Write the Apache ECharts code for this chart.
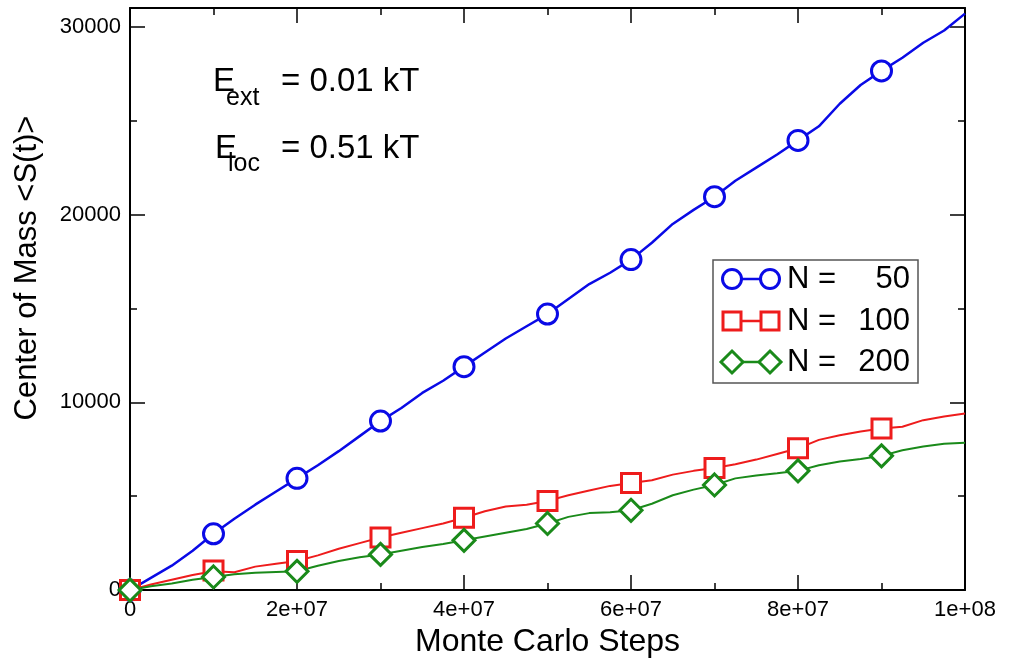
<!DOCTYPE html>
<html>
<head>
<meta charset="utf-8">
<script src="https://cdn.jsdelivr.net/npm/echarts@6/dist/echarts.min.js"></script>
<style>html,body{margin:0;padding:0;background:#fff}#c{width:1011px;height:663px}</style>
</head>
<body>
<div id="c"></div>
<script>
// Monte Carlo steps (in millions) for the curves
const stepsM = [0,2.5,5,7.5,10,12.5,15,17.5,20,22.5,25,27.5,30,32.5,35,37.5,40,42.5,45,47.5,50,52.5,55,57.5,60,62.5,65,67.5,70,72.5,75,77.5,80,82.5,85,87.5,90,92.5,95,97.5,100];
const curveN50  = [0,650,1300,2100,3000,3800,4550,5250,5950,6650,7400,8200,9000,9700,10500,11150,11900,12650,13400,14050,14700,15500,16300,16900,17600,18500,19500,20250,20950,21800,22500,23200,23950,24700,25900,26900,27650,28350,29150,29800,30700];
const curveN100 = [0,300,550,800,1000,950,1250,1400,1550,1850,2200,2500,2800,3050,3300,3550,3850,4200,4450,4550,4750,5050,5300,5550,5700,5850,6150,6350,6500,6700,6950,7250,7550,8000,8250,8450,8600,8700,9050,9250,9400];
const curveN200 = [0,200,350,550,700,850,920,960,1000,1300,1550,1750,1900,2100,2300,2450,2650,2850,3050,3250,3550,3900,4100,4150,4250,4600,5050,5350,5600,5950,6100,6220,6350,6650,6850,6980,7150,7450,7650,7800,7850];
// marker positions (millions of steps) and values
const markStepsM = [0,10,20,30,40,50,60,70,80,90];
const markN50  = [0,3000,5950,9000,11900,14700,17600,20950,23950,27650];
const markN100 = [0,1050,1550,2800,3850,4750,5700,6500,7550,8600];
const markN200 = [0,700,1000,1900,2650,3550,4250,5600,6350,7150];
const seriesNames = ['N =   50','N = 100','N = 200'];
const legendNums = ['50','100','200'];
const xTicks = [0,2e7,4e7,6e7,8e7,1e8];
const yTicks = [0,10000,20000,30000];

const FONT = '"Liberation Sans", Arial, Helvetica, sans-serif';
const BLUE = '#0a0ae6', RED = '#ee1c1c', GREEN = '#1a8a1a';

const pair = (xs, ys) => xs.map((x, i) => [x * 1e6, ys[i]]);
const fmtX = v => v === 0 ? '0' : v.toExponential().replace(/e\+(\d)$/, 'e+0$1');

function axisCommon(extra) {
  return Object.assign({
    type: 'value',
    axisLine: { show: true, onZero: false, lineStyle: { color: '#000', width: 2 } },
    axisTick: { show: true, inside: true, length: 15, lineStyle: { color: '#000', width: 1.5 } },
    minorTick: { show: true, splitNumber: 2, length: 7, lineStyle: { color: '#000', width: 1.5 } },
    splitLine: { show: false },
    minorSplitLine: { show: false }
  }, extra);
}

const chart = echarts.init(document.getElementById('c'), null, { renderer: 'canvas' });

const lineSeries = (name, data, color, w) => ({
  name, type: 'line', data, showSymbol: false, symbol: 'none',
  lineStyle: { color, width: w }, itemStyle: { color }, z: 2, silent: true
});
const markSeries = (name, data, color, symbol, size) => ({
  name, type: 'scatter', data, symbol, symbolSize: size,
  itemStyle: { color: '#fff', borderColor: color, borderWidth: 3, opacity: 1 }, z: 3, silent: true
});

const legendG = [];
const legendY = [279, 321, 362];
const legendColors = [BLUE, RED, GREEN];
legendG.push({ type: 'rect', shape: { x: 713, y: 260, width: 205, height: 123 },
  style: { fill: '#fff', stroke: '#555', lineWidth: 1.5 }, z: 10 });
legendY.forEach((y, i) => {
  const c = legendColors[i];
  legendG.push({ type: 'line', shape: { x1: 732, y1: y, x2: 771, y2: y }, style: { stroke: c, lineWidth: 2.5 }, z: 11 });
  [732, 770].forEach(cx => {
    let el;
    if (i === 0) el = { type: 'circle', shape: { cx, cy: y, r: 9.5 } };
    else if (i === 1) el = { type: 'rect', shape: { x: cx - 9, y: y - 9, width: 18, height: 18 } };
    else el = { type: 'polygon', shape: { points: [[cx, y - 11], [cx + 11, y], [cx, y + 11], [cx - 11, y]] } };
    el.style = { fill: '#fff', stroke: c, lineWidth: 3 };
    el.z = 12;
    legendG.push(el);
  });
  legendG.push({ type: 'text', x: 787, y, z: 12,
    style: { text: 'N =', font: '31px ' + FONT, fill: '#000', align: 'left', verticalAlign: 'middle' } });
  legendG.push({ type: 'text', x: 910, y, z: 12,
    style: { text: legendNums[i], font: '31px ' + FONT, fill: '#000', align: 'right', verticalAlign: 'middle' } });
});

const txt = (text, x, y, size) => ({ type: 'text', x, y, z: 12,
  style: { text, font: size + 'px ' + FONT, fill: '#000', align: 'left', verticalAlign: 'middle' } });

const option = {
  animation: false,
  backgroundColor: '#fff',
  textStyle: { fontFamily: FONT },
  grid: { left: 130, right: 46, top: 8, bottom: 68, containLabel: false },
  xAxis: [
    axisCommon({ position: 'bottom', min: 0, max: 1e8, interval: 2e7,
      axisLabel: { show: true, formatter: fmtX, fontSize: 22, color: '#000', margin: 9, fontFamily: FONT },
      name: 'Monte Carlo Steps', nameLocation: 'middle', nameGap: 33,
      nameTextStyle: { fontSize: 32, color: '#000', fontFamily: FONT } }),
    axisCommon({ position: 'top', min: 0, max: 1e8, interval: 2e7, axisLabel: { show: false } })
  ],
  yAxis: [
    axisCommon({ position: 'left', min: 0, max: 31000, interval: 10000,
      axisLabel: { show: true, formatter: v => String(v), fontSize: 22, color: '#000', margin: 9, showMaxLabel: false, fontFamily: FONT } }),
    axisCommon({ position: 'right', min: 0, max: 31000, interval: 10000, axisLabel: { show: false } })
  ],
  series: [
    lineSeries(seriesNames[0], pair(stepsM, curveN50), BLUE, 2.5),
    markSeries(seriesNames[0], pair(markStepsM, markN50), BLUE, 'circle', 20),
    lineSeries(seriesNames[1], pair(stepsM, curveN100), RED, 2),
    markSeries(seriesNames[1], pair(markStepsM, markN100), RED, 'rect', 19),
    lineSeries(seriesNames[2], pair(stepsM, curveN200), GREEN, 2),
    markSeries(seriesNames[2], pair(markStepsM, markN200), GREEN, 'diamond', 22)
  ],
  graphic: [
    { type: 'text', x: 27, y: 268, rotation: Math.PI / 2, z: 12,
      style: { text: 'Center of Mass <S(t)>', font: '31px ' + FONT, fill: '#000', align: 'center', verticalAlign: 'middle' } },
    txt('E', 213, 81.5, 33),
    txt('ext', 226, 98.5, 25),
    txt('= 0.01 kT', 281, 81.5, 33),
    txt('E', 215, 148.5, 33),
    txt('loc', 228, 164.5, 25),
    txt('= 0.51 kT', 281, 148.5, 33)
  ].concat(legendG)
};
chart.setOption(option);
</script>
</body>
</html>
